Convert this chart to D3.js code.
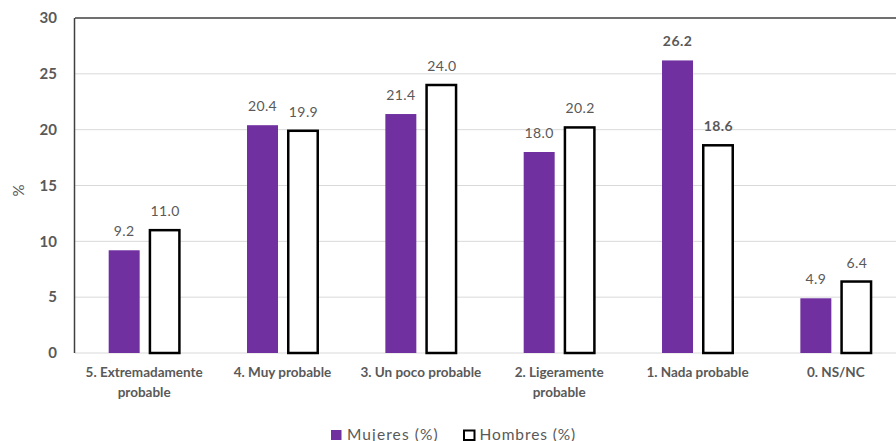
<!DOCTYPE html>
<html>
<head>
<meta charset="utf-8">
<script src="https://cdn.jsdelivr.net/npm/d3@7"></script>
<style>
  html, body { margin: 0; padding: 0; background: #fff; }
  svg { display: block; }
  text { font-family: Lato, "Open Sans", sans-serif; }
</style>
</head>
<body>
<svg id="chart" width="896" height="441"></svg>
<script>
// Survey categories and percentages by sex
const categories = [
  ["5. Extremadamente", "probable"],
  ["4. Muy probable"],
  ["3. Un poco probable"],
  ["2. Ligeramente", "probable"],
  ["1. Nada probable"],
  ["0. NS/NC"]
];
const mujeres = [9.2, 20.4, 21.4, 18.0, 26.2, 4.9];
const hombres = [11.0, 19.9, 24.0, 20.2, 18.6, 6.4];
const boldLabels = [false, false, false, false, true, false];
const yTicks = [0, 5, 10, 15, 20, 25, 30];
const seriesNames = ["Mujeres (%)", "Hombres (%)"];

const purple = "#7030a0";
const textGray = "#595959";

const svg = d3.select("#chart");
const plotLeft = 75, plotRight = 905, plotTop = 18, plotBottom = 353;

const x0 = d3.scaleBand().domain(d3.range(categories.length)).range([plotLeft, plotRight])
  .paddingInner(0.487).paddingOuter(0.2435);
const x1 = d3.scaleBand().domain([0, 1]).range([0, x0.bandwidth()]).paddingInner(0.225);
const y = d3.scaleLinear().domain([0, 30]).range([plotBottom, plotTop]);

// Gridlines
svg.append("g").selectAll("line").data(yTicks.filter(t => t < 30)).join("line")
  .attr("x1", plotLeft).attr("x2", 896)
  .attr("y1", d => y(d)).attr("y2", d => y(d))
  .attr("stroke", "#d9d9d9").attr("stroke-width", 1);

// Frame: top and left edges
svg.append("line").attr("x1", plotLeft).attr("x2", 896).attr("y1", y(30)).attr("y2", y(30))
  .attr("stroke", "#404040").attr("stroke-width", 1.5);
svg.append("line").attr("x1", plotLeft - 0.5).attr("x2", plotLeft - 0.5).attr("y1", y(30)).attr("y2", y(0))
  .attr("stroke", "#404040").attr("stroke-width", 1.5);

// Y axis labels
const yAxis = d3.axisLeft(y).tickValues(yTicks).tickSize(0).tickPadding(18);
const gy = svg.append("g").attr("transform", `translate(${plotLeft},0)`).call(yAxis);
gy.select(".domain").remove();
gy.selectAll("text").attr("fill", textGray).style("font-size", "15px").style("font-weight", "bold")
  .style("font-family", "Lato, sans-serif");

// Y title
svg.append("text").attr("transform", `translate(24,${(plotTop + plotBottom) / 2 + 5}) rotate(-90)`)
  .attr("text-anchor", "middle").attr("fill", textGray).style("font-size", "15px").text("%");

// Bars
const groups = svg.append("g").selectAll("g").data(categories).join("g")
  .attr("transform", (d, i) => `translate(${x0(i)},0)`);

groups.append("rect")
  .attr("x", x1(0)).attr("width", x1.bandwidth())
  .attr("y", (d, i) => y(mujeres[i])).attr("height", (d, i) => y(0) - y(mujeres[i]))
  .attr("fill", purple);

groups.append("rect")
  .attr("x", x1(1) + 1.25).attr("width", x1.bandwidth() - 1.5)
  .attr("y", (d, i) => y(hombres[i])).attr("height", (d, i) => y(0) - y(hombres[i]))
  .attr("fill", "#fff").attr("stroke", "#000").attr("stroke-width", 2.5);

// Value labels
const labelStyle = sel => sel
  .attr("text-anchor", "middle").attr("fill", textGray)
  .style("font-size", "14px").style("letter-spacing", "0.4px")
  .style("font-weight", (d, i) => boldLabels[i] ? "bold" : "normal");

groups.append("text")
  .attr("x", x1(0) + x1.bandwidth() / 2).attr("y", (d, i) => y(mujeres[i]) - 14)
  .call(labelStyle)
  .text((d, i) => mujeres[i].toFixed(1));

groups.append("text")
  .attr("x", x1(1) + x1.bandwidth() / 2 + 1).attr("y", (d, i) => y(hombres[i]) - 14)
  .call(labelStyle)
  .text((d, i) => hombres[i].toFixed(1));

// Category labels
groups.append("text")
  .attr("x", x0.bandwidth() / 2).attr("y", plotBottom + 24)
  .attr("text-anchor", "middle").attr("fill", textGray).style("font-size", "13.5px").style("font-weight", "bold")
  .selectAll("tspan").data(d => d).join("tspan")
  .attr("x", x0.bandwidth() / 2).attr("dy", (d, j) => j === 0 ? 0 : 20)
  .text(d => d);

// Legend
const legend = svg.append("g").attr("transform", "translate(331,430)");
legend.append("rect").attr("x", 0).attr("y", 0).attr("width", 10.5).attr("height", 10).attr("fill", purple);
legend.append("text").attr("x", 16).attr("y", 9.5).attr("fill", textGray).style("font-size", "15.5px")
  .style("letter-spacing", "1.1px").text(seriesNames[0]);
legend.append("rect").attr("x", 133).attr("y", 0.5).attr("width", 10.5).attr("height", 9.5)
  .attr("fill", "#fff").attr("stroke", "#000").attr("stroke-width", 2);
legend.append("text").attr("x", 148.5).attr("y", 9.5).attr("fill", textGray).style("font-size", "15.5px")
  .style("letter-spacing", "0.9px").text(seriesNames[1]);
</script>
</body>
</html>
